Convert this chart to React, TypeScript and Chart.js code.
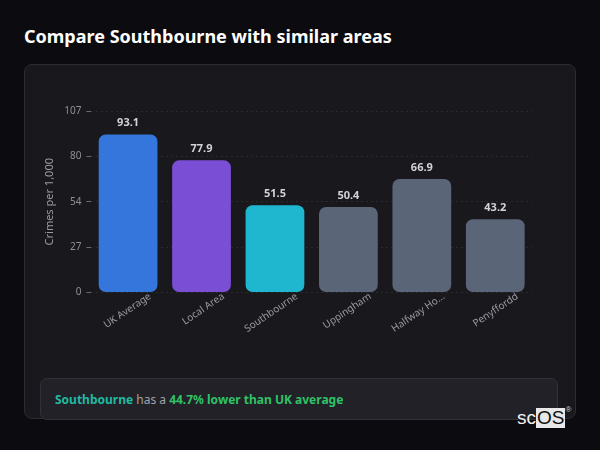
import { useEffect, useRef } from 'react';
import { Chart, registerables, Plugin } from 'chart.js';

Chart.register(...registerables);

const areas = ['UK Average', 'Local Area', 'Southbourne', 'Uppingham', 'Halfway Houses', 'Penyffordd'];
const crimesPer1000 = [93.1, 77.9, 51.5, 50.4, 66.9, 43.2];
const barColours = ['#3576dc', '#7a4fd5', '#1fb7cf', '#5b6578', '#5b6578', '#5b6578'];
const yMax = 107;

const FONT = '"Noto Sans", "Open Sans", sans-serif';

// draws the value above each bar
const valueLabels: Plugin<'bar'> = {
  id: 'valueLabels',
  afterDatasetsDraw(chart) {
    const { ctx } = chart;
    const meta = chart.getDatasetMeta(0);
    ctx.save();
    ctx.font = `bold 11px ${FONT}`;
    ctx.fillStyle = '#d2d2d8';
    ctx.textAlign = 'center';
    ctx.textBaseline = 'bottom';
    meta.data.forEach((bar, i) => {
      ctx.fillText(crimesPer1000[i].toFixed(1), bar.x, bar.y - 6);
    });
    ctx.restore();
  },
};

function CrimeChart() {
  const canvasRef = useRef<HTMLCanvasElement>(null);
  const chartRef = useRef<Chart | null>(null);

  useEffect(() => {
    const ctx = canvasRef.current?.getContext('2d');
    if (!ctx) return;
    if (chartRef.current) chartRef.current.destroy();

    chartRef.current = new Chart(ctx, {
      type: 'bar',
      data: {
        labels: areas,
        datasets: [
          {
            data: crimesPer1000,
            backgroundColor: barColours,
            borderRadius: 7,
            borderSkipped: false,
            categoryPercentage: 0.8,
            barPercentage: 1,
          },
        ],
      },
      options: {
        animation: false,
        responsive: false,
        layout: { padding: { top: 38, right: 45, left: 18, bottom: 21 } },
        plugins: {
          legend: { display: false },
          tooltip: { enabled: false },
        },
        scales: {
          x: {
            z: 1, // labels sit on top of the bars
            grid: { display: false },
            border: { display: false },
            // labels are pulled up with negative padding, so make the box tall enough to not clip them
            afterFit: (scale) => {
              scale.height += 12;
            },
            ticks: {
              color: '#9a9aa2',
              font: { family: FONT, size: 10 },
              minRotation: 34,
              maxRotation: 34,
              labelOffset: 22,
              padding: -10,
              callback: (_v, i) => {
                const s = areas[i];
                return s.length > 12 ? s.slice(0, 10) + '...' : s;
              },
            },
          },
          y: {
            min: 0,
            max: yMax,
            border: { display: false, dash: [2, 3] },
            grid: {
              color: 'rgba(255,255,255,0.08)',
              tickColor: '#6a6a72',
              tickLength: 5,
              tickBorderDash: [],
            },
            ticks: {
              stepSize: yMax / 4,
              color: '#8f8f97',
              font: { family: FONT, size: 10 },
              padding: 5,
              callback: (v) => String(Math.round(Number(v))),
            },
            title: {
              display: true,
              text: 'Crimes per 1,000',
              color: '#9a9aa2',
              font: { family: FONT, size: 11 },
              padding: { top: 0, bottom: 3 },
            },
          },
        },
      },
      plugins: [valueLabels],
    });

    return () => {
      if (chartRef.current) {
        chartRef.current.destroy();
        chartRef.current = null;
      }
    };
  }, []);

  return <canvas ref={canvasRef} width={552} height={285} style={{ width: '552px', height: '285px', display: 'block' }} />;
}

export default function App() {
  return (
    <div style={{ position: 'fixed', inset: 0, background: '#0c0b10', fontFamily: FONT, overflow: 'hidden' }}>
      <div style={{ position: 'absolute', left: 24, top: 24, color: '#ffffff', fontSize: 18, fontWeight: 700, lineHeight: '24px' }}>
        Compare Southbourne with similar areas
      </div>
      <div
        style={{
          position: 'absolute',
          left: 24,
          top: 64,
          width: 550,
          height: 353,
          background: '#18181d',
          border: '1px solid #2c2c33',
          borderRadius: 8,
        }}
      >
        <div style={{ position: 'absolute', left: 0, top: 8 }}>
          <CrimeChart />
        </div>
      </div>
      <div
        style={{
          position: 'absolute',
          left: 40,
          top: 378,
          width: 502,
          height: 40,
          background: '#212127',
          border: '1px solid #313138',
          borderRadius: 7,
          display: 'flex',
          alignItems: 'center',
          paddingLeft: 14,
          boxSizing: 'content-box',
          fontSize: 12,
        }}
      >
        <span style={{ color: '#22b9a0', fontWeight: 700 }}>Southbourne</span>
        <span style={{ color: '#a3a3ab' }}>&nbsp;has a&nbsp;</span>
        <span style={{ color: '#2fc267', fontWeight: 700 }}>44.7% lower than UK average</span>
      </div>
      <div style={{ position: 'absolute', left: 517, top: 408, display: 'flex', alignItems: 'flex-start', fontFamily: '"Liberation Sans", Arial, sans-serif', fontSize: 19, lineHeight: '20px' }}>
        <span style={{ color: '#f2f2f2' }}>sc</span>
        <span style={{ color: '#111', background: '#e8e8e8', padding: '0 1px' }}>OS</span>
        <span style={{ color: '#cfcfcf', fontSize: 8, lineHeight: '8px', marginTop: -2 }}>®</span>
      </div>
    </div>
  );
}
